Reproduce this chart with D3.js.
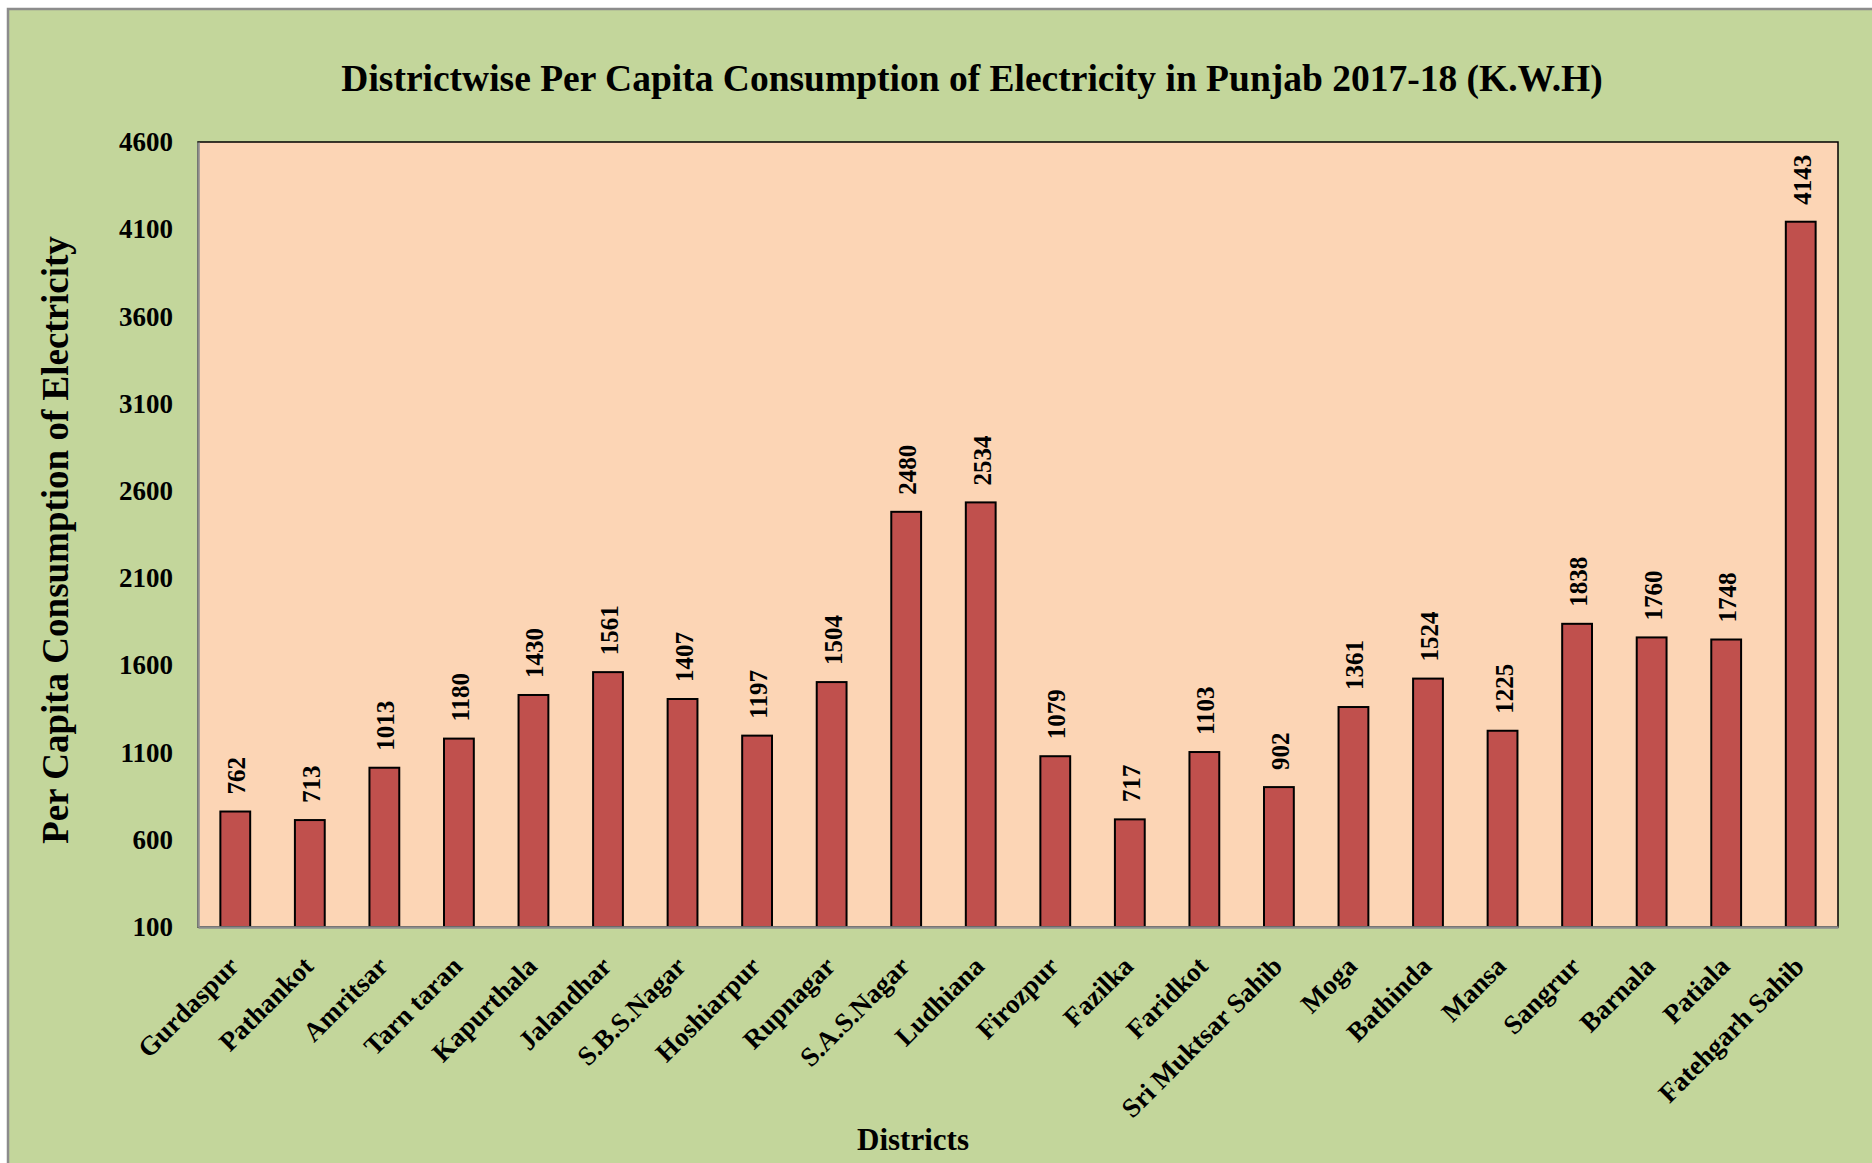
<!DOCTYPE html>
<html>
<head>
<meta charset="utf-8">
<script src="https://cdn.jsdelivr.net/npm/d3@7"></script>
<style>
  html, body { margin: 0; padding: 0; background: #fff; }
  svg text { font-family: "Liberation Serif", "Times New Roman", serif; font-weight: bold; fill: #000; }
</style>
</head>
<body>
<div id="chart"></div>
<script>
"use strict";

// == DATA ==
var districts = ["Gurdaspur", "Pathankot", "Amritsar", "Tarn taran", "Kapurthala", "Jalandhar",
  "S.B.S.Nagar", "Hoshiarpur", "Rupnagar", "S.A.S.Nagar", "Ludhiana", "Firozpur", "Fazilka",
  "Faridkot", "Sri Muktsar Sahib", "Moga", "Bathinda", "Mansa", "Sangrur", "Barnala", "Patiala",
  "Fatehgarh Sahib"];
var consumption = [762, 713, 1013, 1180, 1430, 1561, 1407, 1197, 1504, 2480, 2534, 1079, 717,
  1103, 902, 1361, 1524, 1225, 1838, 1760, 1748, 4143];
var yTicks = [100, 600, 1100, 1600, 2100, 2600, 3100, 3600, 4100, 4600];

var data = districts.map(function(d, i) { return { name: d, value: consumption[i] }; });

// == BOILERPLATE ==
var width = 1872, height = 1163;
var plot = { left: 198, right: 1838, top: 142, bottom: 927 };

var svg = d3.select("#chart")
            .append("svg")
            .attr("width", width)
            .attr("height", height);

// outer chart frame
svg.append("rect")
   .attr("x", 8).attr("y", 9)
   .attr("width", width + 20).attr("height", height + 20)
   .style("fill", "#C3D69B")
   .style("stroke", "#8c8c8c")
   .style("stroke-width", 2.5);

// plot area
svg.append("rect")
   .attr("x", plot.left).attr("y", plot.top)
   .attr("width", plot.right - plot.left).attr("height", plot.bottom - plot.top)
   .style("fill", "#FCD5B5")
   .style("stroke", "#000")
   .style("stroke-width", 1.5);

var xScale = d3.scaleBand().domain(districts).range([plot.left, plot.right])
               .paddingInner(0.6).paddingOuter(0.3);
var yScale = d3.scaleLinear().domain([100, 4600]).range([plot.bottom, plot.top]);

// == BARS ==
svg.selectAll("rect.bar")
   .data(data)
   .enter()
   .append("rect")
   .attr("class", "bar")
   .attr("x", function(d) { return xScale(d.name); })
   .attr("width", xScale.bandwidth())
   .attr("y", function(d) { return yScale(d.value); })
   .attr("height", function(d) { return plot.bottom - yScale(d.value); })
   .style("fill", "#C0504D")
   .style("stroke", "#000")
   .style("stroke-width", 2);

// value labels, rotated
svg.selectAll("text.val")
   .data(data)
   .enter()
   .append("text")
   .attr("class", "val")
   .attr("transform", function(d) {
     var x = xScale(d.name) + xScale.bandwidth() / 2 + 10;
     var y = yScale(d.value) - 17;
     return "translate(" + x + "," + y + ") rotate(-90)";
   })
   .style("font-size", "25px")
   .text(function(d) { return d.value; });

// == AXES ==
var yAxis = d3.axisLeft(yScale).tickValues(yTicks).tickSize(0).tickPadding(25)
              .tickFormat(d3.format("d"));
var gy = svg.append("g").attr("transform", "translate(" + plot.left + ",0)").call(yAxis);
gy.select(".domain").style("stroke", "#8c8c8c").style("stroke-width", 2.5);
gy.selectAll("text").style("font-size", "27px")
  .style("font-family", "'Liberation Serif', 'Times New Roman', serif");

var xAxis = d3.axisBottom(xScale).tickSize(0).tickFormat("");
var gx = svg.append("g").attr("transform", "translate(0," + plot.bottom + ")").call(xAxis);
gx.select(".domain").style("stroke", "#8c8c8c").style("stroke-width", 2.5);

// category labels at 45 degrees
svg.selectAll("text.cat")
   .data(districts)
   .enter()
   .append("text")
   .attr("class", "cat")
   .attr("text-anchor", "end")
   .attr("transform", function(d) {
     var x = xScale(d) + xScale.bandwidth() / 2 + 5;
     return "translate(" + x + ",968) rotate(-45)";
   })
   .style("font-size", "27px")
   .text(function(d) { return d; });

// == TITLES ==
svg.append("text")
   .attr("x", 972).attr("y", 91)
   .attr("text-anchor", "middle")
   .style("font-size", "37.5px")
   .text("Districtwise Per Capita Consumption of Electricity in Punjab 2017-18 (K.W.H)");

svg.append("text")
   .attr("x", 913).attr("y", 1150)
   .attr("text-anchor", "middle")
   .style("font-size", "31px")
   .text("Districts");

svg.append("text")
   .attr("transform", "translate(68,540) rotate(-90)")
   .attr("text-anchor", "middle")
   .style("font-size", "37px")
   .text("Per Capita Consumption of Electricity");
</script>
</body>
</html>
